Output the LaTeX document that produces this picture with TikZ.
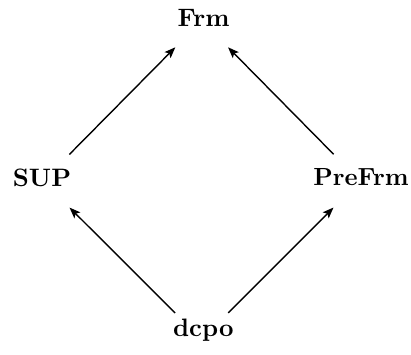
\documentclass[tikz,border=0pt]{standalone}
\usepackage{graphicx}
\usetikzlibrary{arrows.meta}
\begin{document}
\begin{tikzpicture}[x=0.5pt,y=-0.5pt,
  lbl/.style={inner sep=0pt,font=\fontsize{10}{12}\selectfont\bfseries},
  arr/.style={line width=0.7pt,-{Stealth[length=5.5pt,width=4.2pt,inset=1.2pt]},shorten <=18.75pt,shorten >=18.75pt}]
\useasboundingbox (0,0) rectangle (411,354);
\node[lbl] (Frm) at (203.5,17.6) {\scalebox{1.26}{Frm}};
\node[lbl] (SUP) at (42,177.6) {\scalebox{1.26}{SUP}};
\node[lbl] (PreFrm) at (361,177) {\scalebox{1.24}{PreFrm}};
\node[lbl] (dcpo) at (203.3,330) {\scalebox{1.26}{dcpo}};
\draw[arr] ([xshift=0.5pt,yshift=-1.75pt]SUP.center) -- ([xshift=-0.9pt,yshift=-1.5pt]Frm.center);
\draw[arr] ([xshift=-0.5pt,yshift=-2pt]PreFrm.center) -- ([xshift=-0.9pt,yshift=-1.5pt]Frm.center);
\draw[arr] ([xshift=-0.8pt,yshift=-4.7pt]dcpo.center) -- ([xshift=0.5pt,yshift=-1.75pt]SUP.center);
\draw[arr] ([xshift=-0.8pt,yshift=-4.7pt]dcpo.center) -- ([xshift=-0.5pt,yshift=-2pt]PreFrm.center);
\end{tikzpicture}
\end{document}
